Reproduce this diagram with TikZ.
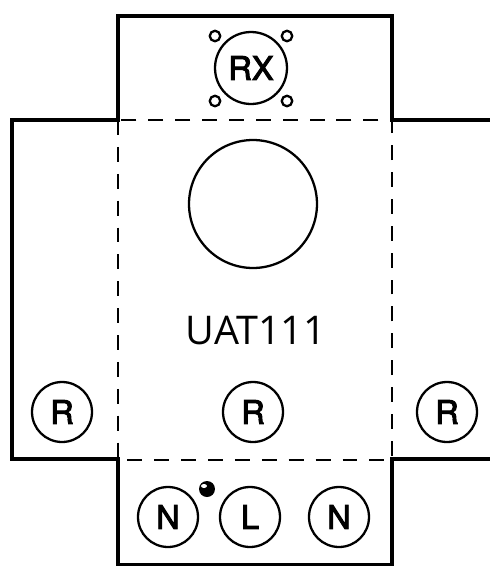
\documentclass[tikz,border=0pt]{standalone}
\usepackage{fontspec}
\setmainfont{Open Sans}
\newfontfamily\pinfont[FakeBold=3]{TeX Gyre Heros}
\tikzset{
    wall/.style={line width=2.7pt, line join=miter},
    fold/.style={line width=1.1pt, dash pattern=on 8.5pt off 6.8pt},
    terminal/.style={draw, circle, line width=1.3pt, minimum size=1.2cm, inner sep=0pt, font=\pinfont\fontsize{18.5}{18.5}\selectfont},
    hole/.style={draw, circle, line width=1.3pt, minimum size=0.21cm, inner sep=0pt},
}
\begin{document}
\begin{tikzpicture}[x=0.02cm, y=-0.02cm]
    \useasboundingbox (0,0) rectangle (490,566);
    \draw[wall] (490,120) -- (392,120) -- (392,16) -- (118,16) -- (118,120) -- (12,120) -- (12,459) -- (118,459) -- (118,565) -- (392,565) -- (392,459) -- (490,459);
    \draw[fold] (118,120) rectangle (392,460);

    \node[terminal, minimum size=1.44cm] (rx) at (251,68) {RX};
    \node[hole] (holea) at (215,36) {};
    \node[hole] (holeb) at (287,36) {};
    \node[hole] (holec) at (215,101) {};
    \node[hole] (holed) at (287,101) {};

    \node[draw, circle, line width=1.3pt, minimum size=2.56cm] (lens) at (253,204) {};
    \node[font=\fontsize{22.5}{22.5}\selectfont] (model) at (256,331) {UAT111};

    \node[terminal] (rleft) at (62,412) {R};
    \node[terminal] (rmid) at (253,412) {R};
    \node[terminal] (rright) at (447,412) {R};

    \node[terminal] (nleft) at (168,517) {N};
    \node[terminal] (live) at (250,517) {L};
    \node[terminal] (nright) at (339,517) {N};

    \node[circle, fill=black, minimum size=0.32cm, inner sep=0pt] (led) at (207,489) {};
    \fill[white] (204,486) ellipse (3 and 2);
\end{tikzpicture}
\end{document}
